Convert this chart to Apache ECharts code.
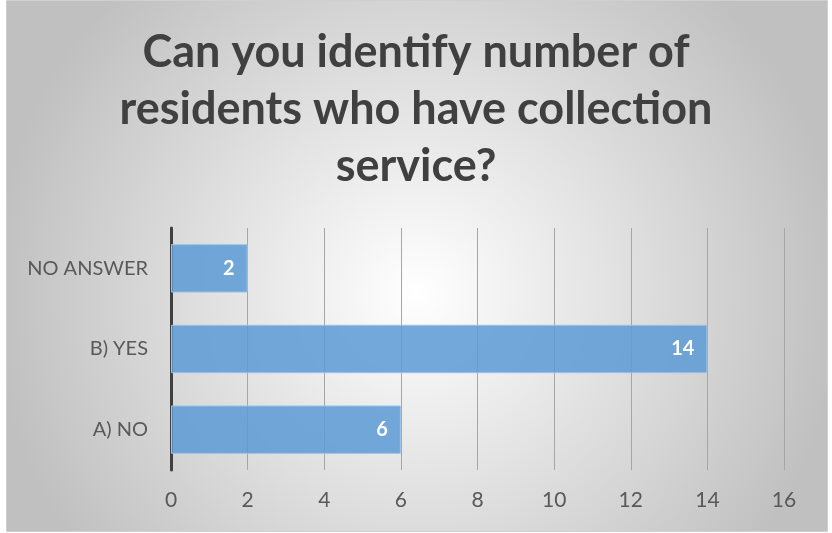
<!DOCTYPE html>
<html><head><meta charset="utf-8">
<script src="https://cdn.jsdelivr.net/npm/echarts@6/dist/echarts.min.js"></script>
<style>html,body{margin:0;padding:0;background:#fff}#c{width:832px;height:533px}</style>
</head><body><div id="c"></div>
<script>
const categories = ['A) NO', 'B) YES', 'NO ANSWER'];
const values = [6, 14, 2];
const titleText = 'Can you identify number of\nresidents who have collection\nservice?';
const xMin = 0, xMax = 16, xInterval = 2;

const chart = echarts.init(document.getElementById('c'));
chart.setOption({
  animation: false,
  graphic: [{
    type: 'rect', left: 6, top: 0, z: -10,
    shape: { width: 821, height: 531 },
    style: {
      fill: { type: 'radial', x: 0.5, y: 0.55, r: 0.8,
        colorStops: [{ offset: 0, color: '#ffffff' }, { offset: 1, color: '#c0c0c0' }] },
      stroke: '#d0d0d0', lineWidth: 1
    }
  }],
  title: {
    text: titleText, left: 'center', top: 19,
    textStyle: { fontFamily: 'Lato', fontWeight: 'bold', fontSize: 45, color: '#404040', lineHeight: 57 }
  },
  grid: { left: 171, right: 48, top: 228, bottom: 63 },
  xAxis: {
    type: 'value', min: xMin, max: xMax, interval: xInterval,
    axisLine: { show: false }, axisTick: { show: false },
    splitLine: { lineStyle: { color: '#a6a6a6', width: 1 } },
    axisLabel: { color: '#595959', fontSize: 21, fontFamily: 'Lato', margin: 20 }
  },
  yAxis: {
    type: 'category', data: categories,
    axisLine: { lineStyle: { color: '#404040', width: 3 } },
    axisTick: { show: false },
    axisLabel: { color: '#595959', fontSize: 20, fontFamily: 'Lato', margin: 23 }
  },
  series: [{
    type: 'bar', data: values, barCategoryGap: '40%',
    itemStyle: { color: 'rgba(91,155,213,0.85)', borderColor: '#9dc3e6', borderWidth: 1 },
    label: { show: true, position: 'insideRight', distance: 13, color: '#ffffff', fontWeight: 'bold', fontSize: 20, fontFamily: 'Lato' }
  }]
});
</script></body></html>
